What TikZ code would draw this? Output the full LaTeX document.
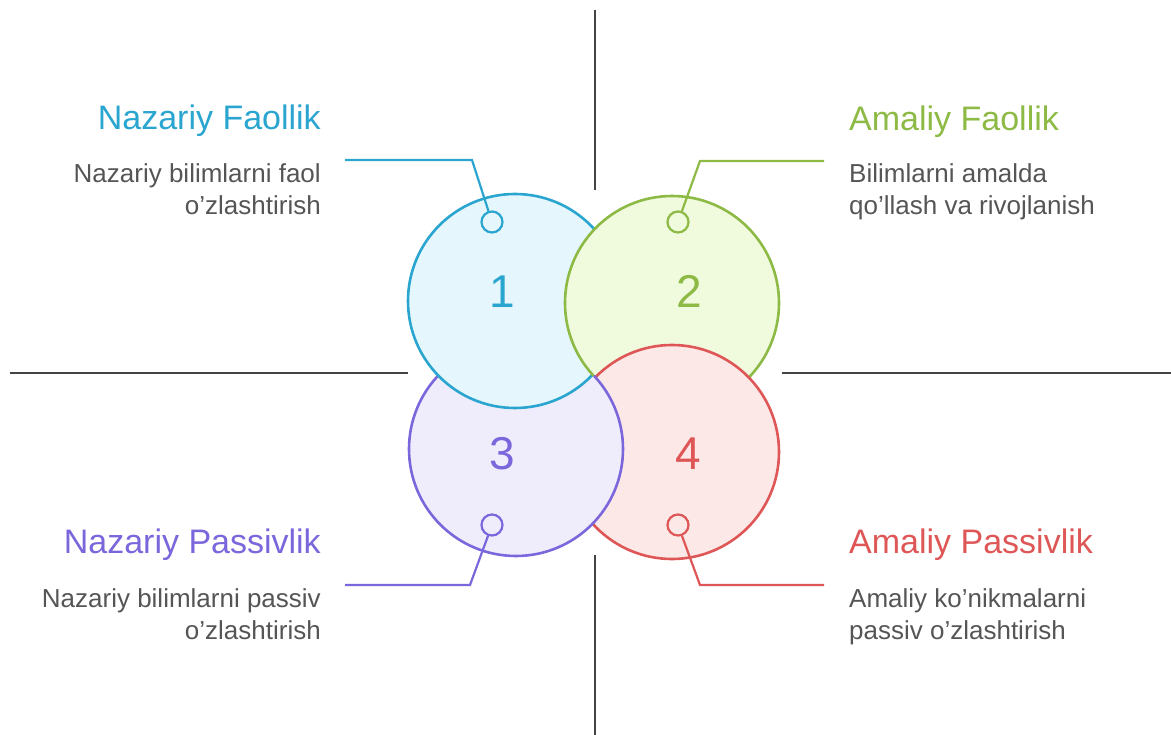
\documentclass[tikz,border=0pt]{standalone}
\usepackage{fontspec}
\setmainfont{Liberation Sans}
\definecolor{bluec}{HTML}{2AA5CF}
\definecolor{bluef}{HTML}{E5F7FC}
\definecolor{greenc}{HTML}{8DBA45}
\definecolor{greenf}{HTML}{F0FADD}
\definecolor{purplec}{HTML}{7B66DC}
\definecolor{purplef}{HTML}{EFEDFB}
\definecolor{redc}{HTML}{DE5656}
\definecolor{redf}{HTML}{FCE9E7}
\definecolor{axisgray}{HTML}{444444}
\definecolor{descgray}{HTML}{555555}
\tikzset{
  bubble/.style={circle, line width=2.6pt, minimum size=214pt, inner sep=0pt},
  marker/.style={circle, line width=2.2pt, minimum size=21pt, inner sep=0pt},
  leader/.style={line width=2.2pt},
  axisline/.style={line width=2pt, draw=axisgray},
  titletext/.style={font=\fontsize{34}{40}\selectfont, inner sep=0pt},
  desctext/.style={font=\fontsize{26}{32}\selectfont, text=descgray, inner sep=0pt},
  numtext/.style={font=\fontsize{46}{50}\selectfont, inner sep=0pt}
}
\begin{document}
\begin{tikzpicture}[x=1pt,y=-1pt]
\useasboundingbox (0,0) rectangle (1171,735);
% axes
\draw[axisline] (595,10) -- (595,190);
\draw[axisline] (595,555) -- (595,735);
\draw[axisline] (10,373) -- (408,373);
\draw[axisline] (782,373) -- (1171,373);
% circles
\node[bubble, draw=purplec, fill=purplef] (c3) at (516,449) {};
\node[bubble, draw=bluec, fill=bluef] (c1) at (515,301) {};
\node[bubble, draw=greenc, fill=greenf] (c2) at (672,303) {};
\node[bubble, draw=redc, fill=redf] (c4) at (672,452) {};
\begin{scope}
  \clip (672,452) circle[radius=109pt];
  \fill[purplef] (516,449) circle[radius=107pt];
  \draw[purplec, line width=2.6pt] (516,449) circle[radius=107pt];
\end{scope}
% numbers
\node[numtext, text=bluec] (n1) at (502,292) {1};
\node[numtext, text=greenc] (n2) at (689,291) {2};
\node[numtext, text=purplec] (n3) at (502,454) {3};
\node[numtext, text=redc] (n4) at (688,454) {4};
% markers and leaders
\node[marker, draw=bluec, fill=bluef] (m1) at (492,222) {};
\node[marker, draw=greenc, fill=greenf] (m2) at (678,222) {};
\node[marker, draw=purplec, fill=purplef] (m3) at (492,525) {};
\node[marker, draw=redc, fill=redf] (m4) at (678,525) {};
\coordinate (k1) at (472,160); \coordinate (e1) at (345,160);
\coordinate (k2) at (700,161); \coordinate (e2) at (824,161);
\coordinate (k3) at (470,585); \coordinate (e3) at (345,585);
\coordinate (k4) at (700,585); \coordinate (e4) at (824,585);
\draw[leader, bluec] (m1) -- (k1) -- (e1);
\draw[leader, greenc] (m2) -- (k2) -- (e2);
\draw[leader, purplec] (m3) -- (k3) -- (e3);
\draw[leader, redc] (m4) -- (k4) -- (e4);
% texts (multi-line nodes: base = last line)
\node[titletext, text=bluec, anchor=base east] (t1) at (321,130) {Nazariy Faollik};
\node[desctext, anchor=base east, align=right] (d1) at (321,215) {Nazariy bilimlarni faol\\o'zlashtirish};
\node[titletext, text=greenc, anchor=base west] (t2) at (849,131) {Amaliy Faollik};
\node[desctext, anchor=base west, align=left] (d2) at (849,215) {Bilimlarni amalda\\qo'llash va rivojlanish};
\node[titletext, text=purplec, anchor=base east] (t3) at (321,553) {Nazariy Passivlik};
\node[desctext, anchor=base east, align=right] (d3) at (321,639) {Nazariy bilimlarni passiv\\o'zlashtirish};
\node[titletext, text=redc, anchor=base west] (t4) at (849,553) {Amaliy Passivlik};
\node[desctext, anchor=base west, align=left] (d4) at (849,639) {Amaliy ko'nikmalarni\\passiv o'zlashtirish};
\end{tikzpicture}
\end{document}
